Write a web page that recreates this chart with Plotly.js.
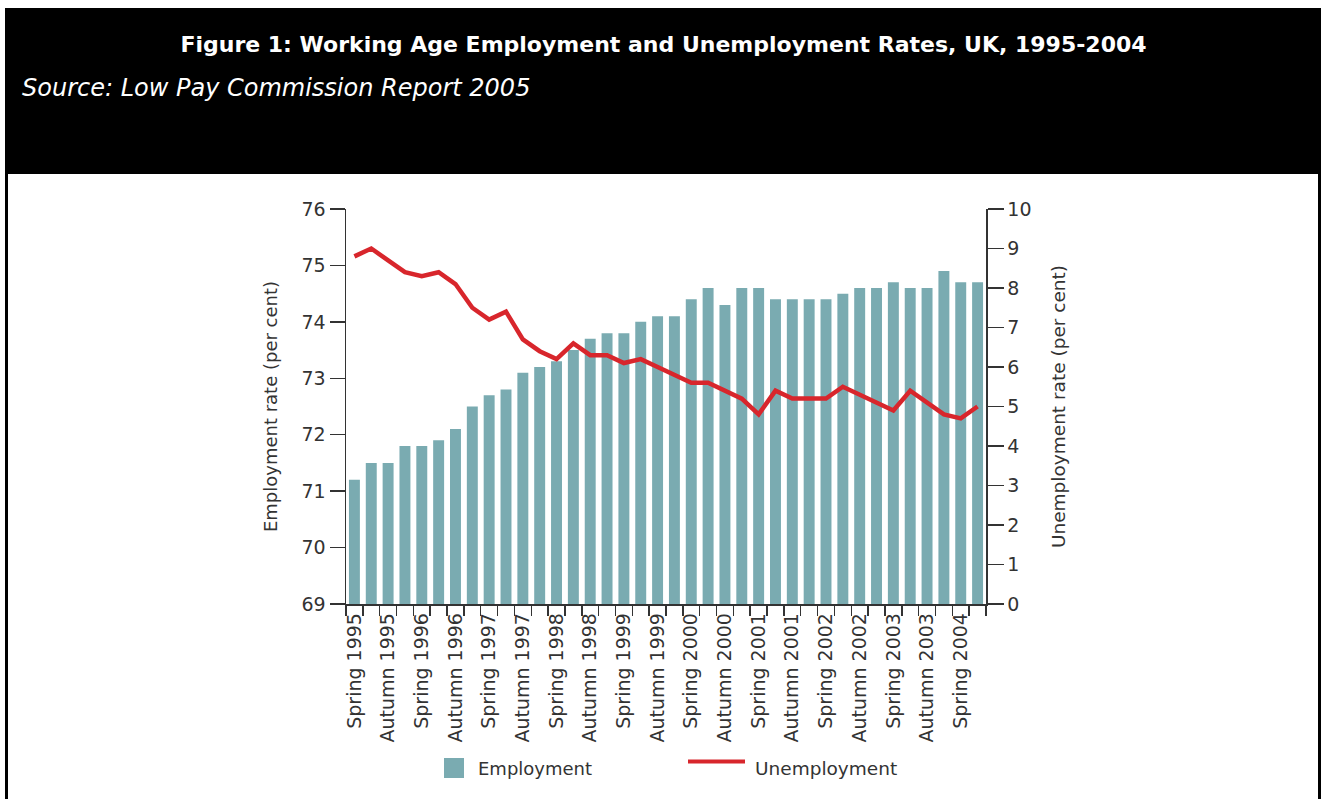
<!DOCTYPE html>
<html>
<head>
<meta charset="utf-8">
<script src="https://cdn.plot.ly/plotly-3.0.1.min.js"></script>
<style>html,body{margin:0;padding:0;background:#fff}#chart{width:1321px;height:799px}</style>
</head>
<body>
<div id="chart"></div>
<script>
const quarters = [
  'Spring 1995','Summer 1995','Autumn 1995','Winter 1995',
  'Spring 1996','Summer 1996','Autumn 1996','Winter 1996',
  'Spring 1997','Summer 1997','Autumn 1997','Winter 1997',
  'Spring 1998','Summer 1998','Autumn 1998','Winter 1998',
  'Spring 1999','Summer 1999','Autumn 1999','Winter 1999',
  'Spring 2000','Summer 2000','Autumn 2000','Winter 2000',
  'Spring 2001','Summer 2001','Autumn 2001','Winter 2001',
  'Spring 2002','Summer 2002','Autumn 2002','Winter 2002',
  'Spring 2003','Summer 2003','Autumn 2003','Winter 2003',
  'Spring 2004','Summer 2004'
];
const tickLabels = [
  'Spring 1995','Autumn 1995','Spring 1996','Autumn 1996','Spring 1997',
  'Autumn 1997','Spring 1998','Autumn 1998','Spring 1999','Autumn 1999',
  'Spring 2000','Autumn 2000','Spring 2001','Autumn 2001','Spring 2002',
  'Autumn 2002','Spring 2003','Autumn 2003','Spring 2004'
];
const employment = [
  71.2, 71.5, 71.5, 71.8, 71.8, 71.9, 72.1, 72.5, 72.7, 72.8,
  73.1, 73.2, 73.3, 73.5, 73.7, 73.8, 73.8, 74.0, 74.1, 74.1,
  74.4, 74.6, 74.3, 74.6, 74.6, 74.4, 74.4, 74.4, 74.4, 74.5,
  74.6, 74.6, 74.7, 74.6, 74.6, 74.9, 74.7, 74.7
];
const unemployment = [
  8.8, 9.0, 8.7, 8.4, 8.3, 8.4, 8.1, 7.5, 7.2, 7.4,
  6.7, 6.4, 6.2, 6.6, 6.3, 6.3, 6.1, 6.2, 6.0, 5.8,
  5.6, 5.6, 5.4, 5.2, 4.8, 5.4, 5.2, 5.2, 5.2, 5.5,
  5.3, 5.1, 4.9, 5.4, 5.1, 4.8, 4.7, 5.0
];
const yLeftTicks = [69, 70, 71, 72, 73, 74, 75, 76];
const yRightTicks = [0, 1, 2, 3, 4, 5, 6, 7, 8, 9, 10];

const W = 1321, H = 799;
const M = {l: 346, r: 335, t: 209, b: 195};
const PW = W - M.l - M.r, PH = H - M.t - M.b;
const px = v => (v - M.l) / PW;
const py = v => (H - M.b - v) / PH;

const TEAL = '#7aabb1';
const RED = '#d8262c';
const INK = '#333333';
const FONT = 'DejaVu Sans';

const ticktext = quarters.map(q => tickLabels.includes(q) ? q : '');

const traces = [
  {
    type: 'bar', name: 'Employment', x: quarters, y: employment,
    marker: {color: TEAL}, yaxis: 'y', hoverinfo: 'x+y'
  },
  {
    type: 'scatter', mode: 'lines', name: 'Unemployment', x: quarters, y: unemployment,
    line: {color: RED, width: 4.5}, yaxis: 'y2', hoverinfo: 'x+y'
  }
];

const axisCommon = {
  showline: true, linecolor: INK, linewidth: 1.5,
  ticks: 'outside', tickcolor: INK, tickwidth: 1.5,
  showgrid: false, zeroline: false, fixedrange: true
};

const layout = {
  width: W, height: H,
  margin: M,
  paper_bgcolor: '#ffffff', plot_bgcolor: '#ffffff',
  showlegend: false,
  bargap: 0.35,
  font: {family: FONT, size: 18, color: INK},
  title: {
    text: 'Figure 1: Working Age Employment and Unemployment Rates, UK, 1995-2004',
    font: {family: FONT, size: 22, color: '#ffffff', weight: 'bold'},
    x: 663.5 / W, xref: 'container', xanchor: 'center',
    y: 1 - 44 / H, yref: 'container', yanchor: 'middle'
  },
  xaxis: Object.assign({}, axisCommon, {
    type: 'category', range: [-0.5, quarters.length - 0.5],
    tickmode: 'array', tickvals: quarters, ticktext: ticktext,
    tickson: 'boundaries', ticklen: 10, tickangle: -90,
    tickfont: {family: FONT, size: 19, color: INK}
  }),
  yaxis: Object.assign({}, axisCommon, {
    range: [69, 76], tickmode: 'array', tickvals: yLeftTicks, ticklen: 15,
    tickfont: {family: FONT, size: 19, color: INK},
    title: {text: 'Employment rate (per cent)', font: {family: FONT, size: 18, color: INK}, standoff: 19}
  }),
  yaxis2: Object.assign({}, axisCommon, {
    overlaying: 'y', side: 'right',
    range: [0, 10], tickmode: 'array', tickvals: yRightTicks, ticklen: 16,
    tickfont: {family: FONT, size: 19, color: INK},
    title: {text: 'Unemployment rate (per cent)', font: {family: FONT, size: 18.5, color: INK}, standoff: 21}
  }),
  shapes: [
    {type: 'rect', xref: 'paper', yref: 'paper', layer: 'below',
     x0: px(5), x1: px(1321), y0: py(174), y1: py(8),
     fillcolor: '#000000', line: {width: 0}},
    {type: 'rect', xref: 'paper', yref: 'paper', layer: 'below',
     x0: px(5), x1: px(8), y0: py(799), y1: py(174),
     fillcolor: '#000000', line: {width: 0}},
    {type: 'rect', xref: 'paper', yref: 'paper', layer: 'below',
     x0: px(1318), x1: px(1321), y0: py(799), y1: py(174),
     fillcolor: '#000000', line: {width: 0}},
    {type: 'rect', xref: 'paper', yref: 'paper',
     x0: px(444), x1: px(464), y0: py(778), y1: py(758),
     fillcolor: TEAL, line: {width: 0}},
    {type: 'line', xref: 'paper', yref: 'paper',
     x0: px(688), x1: px(745), y0: py(761.5), y1: py(761.5),
     line: {color: RED, width: 4}}
  ],
  annotations: [
    {text: 'Source: Low Pay Commission Report 2005', xref: 'paper', yref: 'paper',
     x: px(20), y: py(88), xanchor: 'left', yanchor: 'middle', showarrow: false,
     font: {family: FONT, size: 24, color: '#ffffff', style: 'italic'}},
    {text: 'Employment', xref: 'paper', yref: 'paper',
     x: px(476), y: py(768), xanchor: 'left', yanchor: 'middle', showarrow: false,
     font: {family: FONT, size: 18, color: INK}},
    {text: 'Unemployment', xref: 'paper', yref: 'paper',
     x: px(753), y: py(768), xanchor: 'left', yanchor: 'middle', showarrow: false,
     font: {family: FONT, size: 18.5, color: INK}}
  ]
};

Plotly.newPlot('chart', traces, layout, {displayModeBar: false, staticPlot: true});
</script>
</body>
</html>
